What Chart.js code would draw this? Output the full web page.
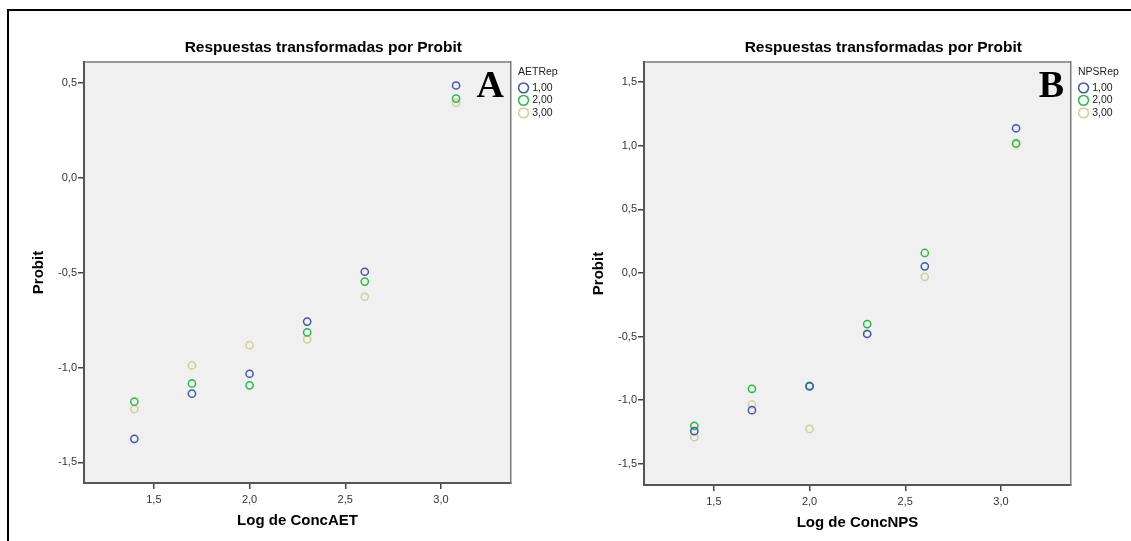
<!DOCTYPE html>
<html lang="es">
<head>
<meta charset="utf-8">
<title>Respuestas transformadas por Probit</title>
<script src="https://cdn.jsdelivr.net/npm/chart.js@4.4.1/dist/chart.umd.min.js"></script>
<style>
    html, body { margin: 0; padding: 0; background: #fff; }
    #sheet { position: relative; width: 1131px; height: 541px; overflow: hidden; }
    #frame {
        position: absolute; left: 7px; top: 9px; width: 1140px; height: 560px;
        border-left: 2px solid #000; border-top: 2px solid #000;
    }
    .panel { position: absolute; top: 0; height: 541px; }
    #panel-a { left: 0; width: 565px; }
    #panel-b { left: 565px; width: 566px; }
</style>
</head>
<body>
<div id="sheet">
    <div id="frame"></div>
    <div class="panel" id="panel-a"><canvas id="chart-aet"></canvas></div>
    <div class="panel" id="panel-b"><canvas id="chart-nps"></canvas></div>
</div>
<script>
// log10 of the concentrations, shared by both assays
const logConc = [1.398, 1.699, 2.000, 2.301, 2.602, 3.079];

// Probit responses, AET, one array per replicate
const aetRep1 = [-1.376, -1.138, -1.033, -0.758, -0.495, 0.487];
const aetRep2 = [-1.180, -1.084, -1.094, -0.815, -0.547, 0.418];
const aetRep3 = [-1.219, -0.989, -0.882, -0.852, -0.627, 0.395];

// Probit responses, NPS
const npsRep1 = [-1.244, -1.079, -0.892, -0.480, 0.052, 1.137];
const npsRep2 = [-1.202, -0.911, -0.887, -0.402, 0.157, 1.019];
const npsRep3 = [-1.291, -1.034, -1.226, -0.476, -0.031, 1.008];

const repLabels = ['1,00', '2,00', '3,00'];
const repColors = ['#3E58AC', '#2EB848', '#D3CE97'];

const xTicks = [1.5, 2.0, 2.5, 3.0];
const yTicksAet = [-1.5, -1.0, -0.5, 0.0, 0.5];
const yTicksNps = [-1.5, -1.0, -0.5, 0.0, 0.5, 1.0, 1.5];

Chart.defaults.font.family = '"Liberation Sans", Arial, sans-serif';
Chart.defaults.color = '#333';

const commaDecimal = v => Number(v).toFixed(1).replace('.', ',');

// grey plot background plus the upper frame line
const plotBackdrop = {
    id: 'plotBackdrop',
    beforeDraw(chart) {
        const { ctx, chartArea: a } = chart;
        ctx.save();
        ctx.fillStyle = '#F0F0F0';
        ctx.fillRect(a.left, a.top, a.width, a.height);
        ctx.strokeStyle = '#7a7a7a';
        ctx.lineWidth = 1.5;
        ctx.beginPath();
        ctx.moveTo(a.left, a.top);
        ctx.lineTo(a.right, a.top);
        ctx.stroke();
        ctx.restore();
    }
};

// chart heading (centred over plot + legend) and the panel letter
const panelText = {
    id: 'panelText',
    afterDraw(chart, args, opts) {
        const { ctx, chartArea: a } = chart;
        const legendRight = chart.legend ? chart.legend.right : a.right;
        ctx.save();
        ctx.fillStyle = '#000';
        ctx.textAlign = 'center';
        ctx.textBaseline = 'middle';
        ctx.font = 'bold 15.5px "Liberation Sans", Arial, sans-serif';
        ctx.fillText(opts.title, (a.left + legendRight) / 2, 48);
        ctx.textAlign = 'right';
        ctx.textBaseline = 'alphabetic';
        ctx.font = 'bold 38px "Liberation Serif", "Times New Roman", serif';
        ctx.fillText(opts.letter, a.right - 7, a.top + 35);
        ctx.restore();
    }
};

function makeDatasets(series) {
    return series.map((values, i) => ({
        label: repLabels[i],
        data: logConc.map((x, j) => ({ x: x, y: values[j] })),
        borderColor: repColors[i],
        backgroundColor: 'rgba(0,0,0,0)',
        pointBorderColor: repColors[i],
        pointBackgroundColor: 'rgba(0,0,0,0)',
        pointBorderWidth: 1.5,
        pointRadius: 3.6,
        pointHoverRadius: 3.6,
        showLine: false
    }));
}

function makeChart(canvasId, cfg) {
    const ctx = document.getElementById(canvasId).getContext('2d');
    return new Chart(ctx, {
        type: 'scatter',
        data: { datasets: makeDatasets(cfg.series) },
        plugins: [plotBackdrop, panelText],
        options: {
            responsive: true,
            maintainAspectRatio: false,
            animation: false,
            layout: { padding: { top: 62, right: cfg.padRight, bottom: 0, left: 0 } },
            plugins: {
                tooltip: { enabled: false },
                panelText: { title: 'Respuestas transformadas por Probit', letter: cfg.letter },
                legend: {
                    position: 'right',
                    align: 'start',
                    title: {
                        display: true,
                        text: cfg.legendTitle,
                        position: 'start',
                        color: '#222',
                        font: { size: 10.5 },
                        padding: { top: 5, bottom: 1 }
                    },
                    labels: {
                        usePointStyle: true,
                        pointStyle: 'circle',
                        boxWidth: 7,
                        boxHeight: 7,
                        padding: 2,
                        color: '#222',
                        font: { size: 10.5 }
                    }
                }
            },
            scales: {
                x: {
                    type: 'linear',
                    position: 'bottom',
                    min: 1.135,
                    max: 3.366,
                    afterBuildTicks: scale => { scale.ticks = xTicks.map(v => ({ value: v })); },
                    afterFit: scale => { scale.height = cfg.xAxisHeight; },
                    ticks: { callback: commaDecimal, font: { size: 11 }, color: '#333', padding: 4 },
                    grid: { drawOnChartArea: false, drawTicks: true, tickLength: 6, color: '#444', lineWidth: 1.5 },
                    border: { color: '#555', width: 2 },
                    title: {
                        display: true,
                        text: cfg.xTitle,
                        color: '#000',
                        font: { size: 15, weight: 'bold' },
                        padding: { top: 0, bottom: cfg.xTitleGap }
                    }
                },
                y: {
                    type: 'linear',
                    position: 'left',
                    min: cfg.yMin,
                    max: cfg.yMax,
                    afterBuildTicks: scale => { scale.ticks = cfg.yTicks.map(v => ({ value: v })); },
                    afterFit: scale => { scale.width = cfg.yAxisWidth; },
                    ticks: { callback: commaDecimal, font: { size: 11 }, color: '#333', padding: 1 },
                    grid: { drawOnChartArea: false, drawTicks: true, tickLength: 6, color: '#444', lineWidth: 1.5 },
                    border: { color: '#555', width: 2 },
                    title: {
                        display: true,
                        text: 'Probit',
                        color: '#000',
                        font: { size: 15, weight: 'bold' },
                        padding: { top: cfg.yTitleGap, bottom: 0 }
                    }
                },
                // right-hand frame line; also keeps the legend clear of the plot
                frameRight: {
                    type: 'linear',
                    position: 'right',
                    grid: { display: false },
                    ticks: { display: false },
                    border: { color: '#7a7a7a', width: 1.5 },
                    afterFit: scale => { scale.width = 7; }
                }
            }
        }
    });
}

document.addEventListener('DOMContentLoaded', function() {
    makeChart('chart-aet', {
        series: [aetRep1, aetRep2, aetRep3],
        letter: 'A',
        legendTitle: 'AETRep',
        xTitle: 'Log de ConcAET',
        yTicks: yTicksAet,
        yMin: -1.609,
        yMax: 0.611,
        yAxisWidth: 84,
        yTitleGap: 30,
        xAxisHeight: 58,
        xTitleGap: 11,
        padRight: 2.3
    });
    makeChart('chart-nps', {
        series: [npsRep1, npsRep2, npsRep3],
        letter: 'B',
        legendTitle: 'NPSRep',
        xTitle: 'Log de ConcNPS',
        yTicks: yTicksNps,
        yMin: -1.667,
        yMax: 1.658,
        yAxisWidth: 79,
        yTitleGap: 25,
        xAxisHeight: 56,
        xTitleGap: 9,
        padRight: 8.3
    });
});
</script>
</body>
</html>
